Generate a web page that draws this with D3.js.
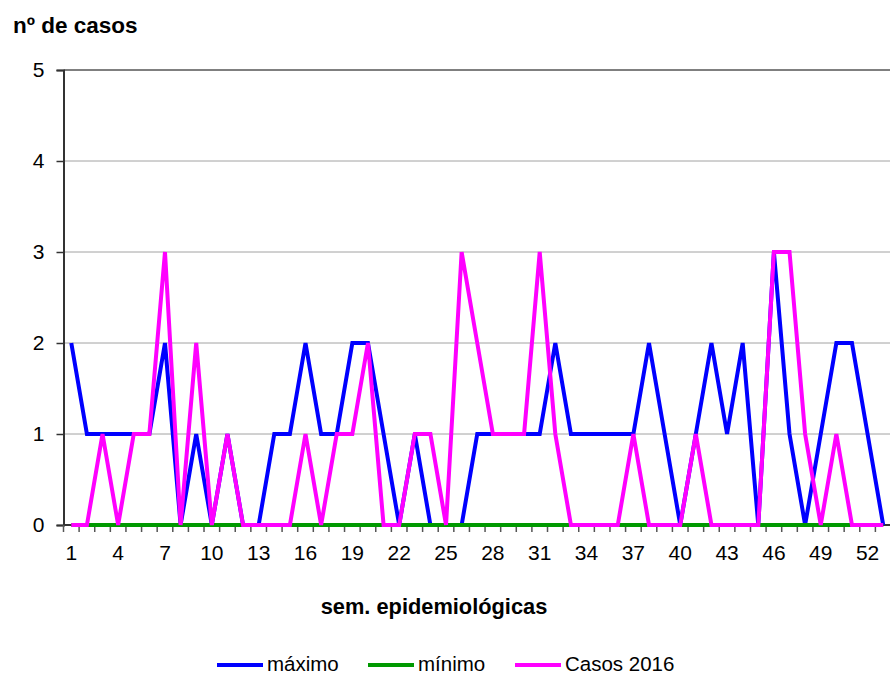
<!DOCTYPE html>
<html><head><meta charset="utf-8">
<script src="https://cdn.jsdelivr.net/npm/d3@7"></script>
<style>body{margin:0;background:#fff}svg{display:block}</style>
</head><body>
<script>
const weeks = d3.range(1, 54);
const maximo = [2,1,1,1,1,1,2,0,1,0,1,0,0,1,1,2,1,1,2,2,1,0,1,0,0,0,1,1,1,1,1,2,1,1,1,1,1,2,1,0,1,2,1,2,0,3,1,0,1,2,2,1,0];
const minimo = weeks.map(() => 0);
const casos2016 = [0,0,1,0,1,1,3,0,2,0,1,0,0,0,0,1,0,1,1,2,0,0,1,1,0,3,2,1,1,1,3,1,0,0,0,0,1,0,0,0,1,0,0,0,0,3,3,1,0,1,0,0,0];
const yTicks = [0,1,2,3,4,5];
const xTickLabels = weeks.filter(w => (w - 1) % 3 === 0);
const seriesNames = ["máximo", "mínimo", "Casos 2016"];
const seriesColors = ["#0000ff", "#009900", "#ff00ff"];

const W = 890, H = 675;
const svg = d3.select("body").append("svg").attr("width", W).attr("height", H);
const pL = 63.5, pR = 891, pT = 70, pB = 525;
const x = d3.scaleBand().domain(weeks).range([pL, pR]).padding(0);
const cx = w => x(w) + x.bandwidth() / 2;
const y = d3.scaleLinear().domain([0, 5]).range([pB, pT]);
const font = "Liberation Sans, Arial, sans-serif";

// gridlines
svg.append("g").selectAll("line").data(yTicks.filter(t => t > 0)).join("line")
  .attr("x1", pL).attr("x2", W).attr("y1", d => y(d)).attr("y2", d => y(d))
  .attr("stroke", d => d === 5 ? "#000" : "#444")
  .attr("stroke-width", 1)
  .attr("stroke-dasharray", d => d === 5 ? null : "1,1");

// y axis
const yAxis = d3.axisLeft(y).tickValues(yTicks).tickSize(7).tickPadding(12).tickFormat(d3.format("d"));
const gy = svg.append("g").attr("transform", `translate(${pL},0)`).call(yAxis);
gy.select(".domain").attr("stroke", "#333").attr("stroke-width", 2);
gy.selectAll(".tick line").attr("stroke", "#333").attr("stroke-width", 1.5);
gy.selectAll("text").attr("font-family", font).attr("font-size", 21).attr("fill", "#000");

// x axis: ticks at band boundaries
const gx = svg.append("g").attr("transform", `translate(0,${pB})`);
gx.append("line").attr("x1", pL).attr("x2", W).attr("stroke", "#333").attr("stroke-width", 2);
gx.selectAll("line.tk").data(weeks.concat([54])).join("line").attr("class", "tk")
  .attr("x1", w => w <= 53 ? x(w) : pR).attr("x2", w => w <= 53 ? x(w) : pR)
  .attr("y1", 0).attr("y2", 7).attr("stroke", "#555").attr("stroke-width", 1.5);
gx.selectAll("text").data(xTickLabels).join("text")
  .attr("x", w => cx(w)).attr("y", 35).attr("text-anchor", "middle")
  .attr("font-family", font).attr("font-size", 21).text(d => d);

// lines
const series = [maximo, minimo, casos2016];
const line = d3.line().x((d, i) => cx(weeks[i])).y(d => y(d));
series.forEach((s, k) => {
  svg.append("path").datum(s).attr("d", line).attr("fill", "none")
    .attr("stroke", seriesColors[k]).attr("stroke-width", 4).attr("stroke-linejoin", "miter");
});

// titles
svg.append("text").attr("x", 13).attr("y", 33).attr("font-family", font)
  .attr("font-weight", "bold").attr("font-size", 22.5).text("nº de casos");
svg.append("text").attr("x", 434).attr("y", 614).attr("text-anchor", "middle").attr("font-family", font)
  .attr("font-weight", "bold").attr("font-size", 21.8).text("sem. epidemiológicas");

// legend
const legX = [217, 368, 515];
const lg = svg.append("g");
seriesNames.forEach((n, k) => {
  lg.append("line").attr("x1", legX[k]).attr("x2", legX[k] + 46).attr("y1", 665).attr("y2", 665)
    .attr("stroke", seriesColors[k]).attr("stroke-width", 4);
  lg.append("text").attr("x", legX[k] + 50).attr("y", 671).attr("font-family", font)
    .attr("font-size", 20.5).text(n);
});
</script>
</body></html>
